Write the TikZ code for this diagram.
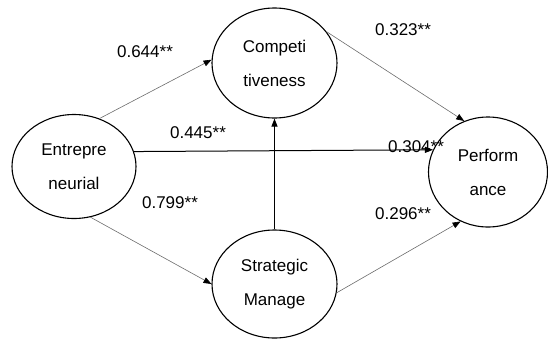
\documentclass[tikz,border=0pt]{standalone}
\usepackage{fontspec}
\setmainfont{Liberation Sans}
\usetikzlibrary{shapes.geometric,arrows.meta}
\begin{document}
\begin{tikzpicture}[x=1pt,y=-1pt,
  construct/.style={ellipse,draw=black,line width=1.1pt,inner sep=0pt,align=center,
    font=\fontsize{17}{34}\selectfont},
  coef/.style={font=\fontsize{17}{20}\selectfont,inner sep=0pt},
  greyarrow/.style={draw=gray!85!black,line width=0.6pt,-{Triangle[length=8pt,width=6pt,color=black]}},
  blackarrow/.style={draw=black,line width=1pt,-{Triangle[length=8pt,width=6pt,color=black]}}]
\useasboundingbox (0,0) rectangle (548,338);
\node[construct,minimum width=124pt,minimum height=104pt] (E) at (74,166.5) {Entrepre\\neurial};
\node[construct,minimum width=125pt,minimum height=110pt] (C) at (274.5,63) {Competi\\tiveness};
\node[construct,minimum width=125pt,minimum height=108pt] (S) at (274.5,284) {Strategic\\Manage};
\node[construct,minimum width=119pt,minimum height=110pt] (P) at (488,172) {Perform\\ance};
\draw[greyarrow] (E.62) -- (C.177);
\draw[blackarrow] (E.14) -- (P.158);
\draw[greyarrow] (E.-72) -- (S.180);
\draw[blackarrow] (S.90) -- (C.270);
\draw[greyarrow] (C.31) -- (P.115);
\draw[greyarrow] (S.-8) -- (P.-119);
\node[coef] (l1) at (145,52) {0.644**};
\node[coef] (l2) at (403,30) {0.323**};
\node[coef] (l3) at (198,133) {0.445**};
\node[coef] (l4) at (416,147) {0.304**};
\node[coef] (l5) at (170,203) {0.799**};
\node[coef] (l6) at (403,214) {0.296**};
\end{tikzpicture}
\end{document}
